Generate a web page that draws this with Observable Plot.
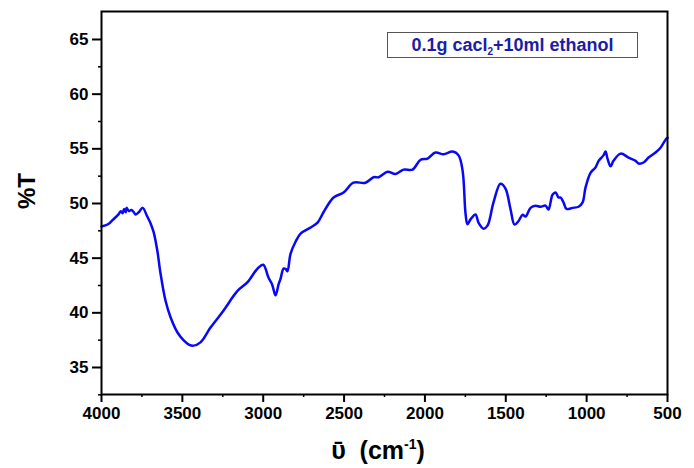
<!DOCTYPE html>
<html>
<head>
<meta charset="utf-8">
<script src="https://cdn.jsdelivr.net/npm/d3@7"></script>
<script src="https://cdn.jsdelivr.net/npm/@observablehq/plot@0.6"></script>
<style>
  html, body { margin: 0; padding: 0; background: #fff; }
  #wrap { position: relative; width: 694px; height: 468px; overflow: hidden; }
  #legend {
    position: absolute; left: 387px; top: 32px; width: 249px; height: 24px;
    border: 1.5px solid #555; background: #fff; text-align: center;
    font: bold 18px "Liberation Sans", Arial, sans-serif; color: #1c1ca6;
    line-height: 24px; white-space: nowrap;
  }
  #legend sub { font-size: 10px; vertical-align: -4px; line-height: 0; }
  #xlabel {
    position: absolute; left: 0; width: 756px; top: 436px; height: 29px; text-align: center;
    font: bold 25px "Liberation Sans", Arial, "DejaVu Sans", sans-serif; color: #000;
    white-space: pre; line-height: 29px;
  }
  #xlabel sup { font-size: 14px; vertical-align: 10px; line-height: 0; }
</style>
</head>
<body>
<div id="wrap"></div>
<script>
const wavenumber = [4000,3960,3930,3895,3880,3870,3860,3850,3845,3830,3815,3800,3790,3770,3745,3720,3697,3678,3655,3635,3604,3573,3530,3493,3460,3431,3388,3326,3246,3159,3097,3035,3000,2967,2945,2924,2905,2893,2874,2860,2850,2831,2800,2769,2707,2664,2627,2565,2503,2442,2368,2318,2287,2231,2182,2132,2077,2027,1984,1935,1885,1829,1792,1767,1749,1737,1718,1687,1669,1638,1613,1576,1533,1502,1471,1446,1421,1396,1378,1347,1316,1285,1254,1236,1211,1192,1174,1161,1143,1124,1087,1050,1025,1007,976,945,926,896,883,871,852,834,790,741,697,678,648,617,574,543,506,500];
const transmittance = [47.9,48.1,48.5,49.0,49.3,49.1,49.5,49.2,49.6,49.3,49.4,49.2,49.0,49.2,49.6,48.9,48.2,47.4,45.7,43.6,41.1,39.6,38.2,37.5,37.1,37.0,37.3,38.65,40.2,42.0,42.8,44.05,44.4,43.2,42.6,41.6,42.6,43.1,44.05,44.0,43.8,45.4,46.5,47.25,47.8,48.25,49.2,50.55,51.0,51.9,51.9,52.4,52.4,52.9,52.7,53.1,53.1,54.0,54.1,54.66,54.5,54.75,54.4,53.0,49.1,48.1,48.55,49.0,48.25,47.7,47.98,50.1,51.8,51.37,49.5,48.07,48.4,48.97,48.8,49.6,49.8,49.7,49.8,49.45,50.8,51.0,50.55,50.55,50.1,49.5,49.6,49.7,50.1,51.45,52.8,53.3,53.9,54.4,54.75,54.1,53.4,53.9,54.56,54.2,53.9,53.65,53.75,54.2,54.66,55.1,55.95,56.0];
const xTicks = [4000,3500,3000,2500,2000,1500,1000,500];
const xMinor = [3750,3250,2750,2250,1750,1250,750];
const yTicks = [35,40,45,50,55,60,65];
const yMinor = [32.5,37.5,42.5,47.5,52.5,57.5,62.5];
const legendHTML = "0.1g cacl<sub>2</sub>+10ml ethanol";
const xLabelHTML = "ῡ  (cm<sup>-1</sup>)";
const yLabel = "%T";

const data = wavenumber.map((w, i) => ({w, t: transmittance[i]}));
const font = "'Liberation Sans', Arial, 'DejaVu Sans', sans-serif";

const chart = Plot.plot({
  width: 694, height: 468,
  marginLeft: 101, marginRight: 27, marginTop: 11, marginBottom: 74,
  style: {fontFamily: font, background: "#fff"},
  x: {domain: [4000, 500]},
  y: {domain: [32.53, 67.56]},
  marks: [
    Plot.line(data, {x: "w", y: "t", stroke: "#0808f4", strokeWidth: 2.5, curve: "catmull-rom"}),
    Plot.frame({stroke: "#000", strokeWidth: 2}),
    Plot.axisX({ticks: xTicks, tickSize: 8, tickPadding: 4, tickFormat: d => String(d), fontSize: 17, fontWeight: "bold", strokeWidth: 2, label: null}),
    Plot.axisX({ticks: xMinor, tickSize: 3, text: null, strokeWidth: 1.5, label: null}),
    Plot.axisY({ticks: yTicks, tickSize: 9, tickPadding: 4, fontSize: 17, fontWeight: "bold", strokeWidth: 2, label: null}),
    Plot.axisY({ticks: yMinor, tickSize: 3, text: null, strokeWidth: 1.5, label: null}),
    Plot.text([yLabel], {frameAnchor: "left", dx: -74, dy: 6, rotate: -90, fontSize: 24, fontWeight: "bold", fill: "#000"})
  ]
});
const wrap = document.getElementById("wrap");
wrap.appendChild(chart);
const lg = document.createElement("div");
lg.id = "legend";
lg.innerHTML = legendHTML;
wrap.appendChild(lg);
const xl = document.createElement("div");
xl.id = "xlabel";
xl.innerHTML = xLabelHTML;
wrap.appendChild(xl);
</script>
</body>
</html>
